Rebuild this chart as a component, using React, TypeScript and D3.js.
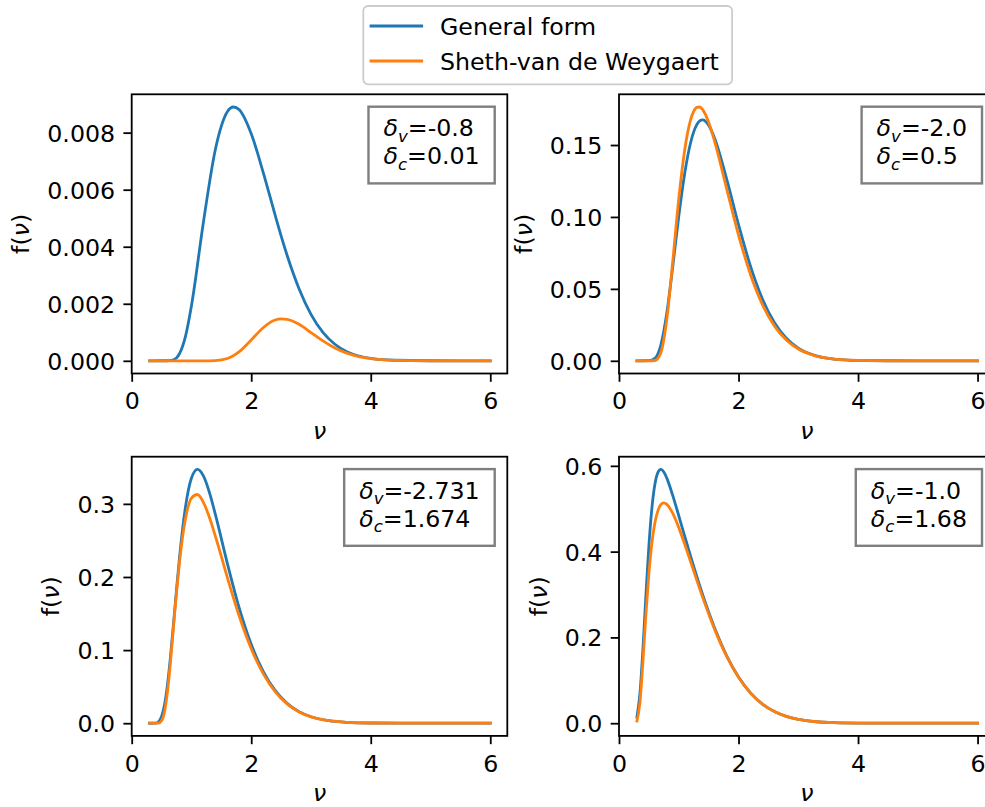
import * as d3 from "d3";
import { useEffect, useRef } from "react";

// nu grid and f(nu) (general form = blue, SvdW = orange)
const nuTL = [0.3, 0.6, 0.7, 0.8, 0.9, 1.0, 1.2, 1.4, 1.6, 1.7, 1.8, 2.0, 2.2, 2.4, 2.5, 2.6, 2.8, 3.0, 3.2, 3.4, 3.6, 3.8, 4.0, 4.4, 5.0, 6.0];
const generalTL = [0, 0.0000017, 0.0000376, 0.000252, 0.000856, 0.00193, 0.00486, 0.00741, 0.00873, 0.0089, 0.0088, 0.00796, 0.00661, 0.00511, 0.00438, 0.0037, 0.00253, 0.00163, 0.000997, 0.00058, 0.00032, 0.000168, 0.0000848, 0.000019, 0.0000015, 0];
const svdwTL = [0, 0, 0, 0, 0, 0, 0.0000002, 0.0000087, 0.000081, 0.000175, 0.00032, 0.00073, 0.00116, 0.00143, 0.00147, 0.00145, 0.00128, 0.000991, 0.000697, 0.000449, 0.000269, 0.00015, 0.0000785, 0.0000181, 0.0000014, 0];

const nuTR = [0.3, 0.5, 0.6, 0.7, 0.8, 0.9, 1.0, 1.1, 1.2, 1.25, 1.3, 1.35, 1.4, 1.5, 1.6, 1.8, 2.0, 2.2, 2.4, 2.6, 2.8, 3.0, 3.3, 3.6, 4.0, 4.5, 5.0, 6.0];
const generalTR = [0, 0.00006, 0.00169, 0.01094, 0.0332, 0.06569, 0.10043, 0.1304, 0.1519, 0.15912, 0.16404, 0.16678, 0.16752, 0.16382, 0.15466, 0.12663, 0.09469, 0.06578, 0.04295, 0.02657, 0.01565, 0.00882, 0.00344, 0.00122, 0.000268, 0.000032, 0.000003, 0];
const svdwTR = [0, 0.0000001, 0.000203, 0.00558, 0.02885, 0.06929, 0.11248, 0.14672, 0.16775, 0.17339, 0.17617, 0.17643, 0.17455, 0.16579, 0.15247, 0.11987, 0.08742, 0.06003, 0.0391, 0.02427, 0.0144, 0.00817, 0.00323, 0.00116, 0.000256, 0.000031, 0.000003, 0];

const nuBL = [0.3, 0.4, 0.45, 0.5, 0.55, 0.6, 0.65, 0.7, 0.75, 0.8, 0.9, 1.0, 1.1, 1.2, 1.3, 1.4, 1.6, 1.8, 2.0, 2.2, 2.4, 2.6, 2.8, 3.0, 3.3, 3.6, 4.0, 4.5, 5.0, 6.0];
const generalBL = [0, 0.00025, 0.00211, 0.00911, 0.02553, 0.05354, 0.09181, 0.13643, 0.18268, 0.22639, 0.29584, 0.33528, 0.34716, 0.33826, 0.31576, 0.28563, 0.21872, 0.15732, 0.10789, 0.07094, 0.04479, 0.02717, 0.01583, 0.00885, 0.00344, 0.00123, 0.00027, 0.000032, 0.000003, 0];
const svdwBL = [0, 0.0000027, 0.00025, 0.00333, 0.01618, 0.04411, 0.08515, 0.13248, 0.17915, 0.22045, 0.27953, 0.30789, 0.31281, 0.30206, 0.28168, 0.25597, 0.19947, 0.14627, 0.10193, 0.06783, 0.0432, 0.02637, 0.01544, 0.00868, 0.00339, 0.00121, 0.000265, 0.000032, 0.000003, 0];

const nuBR = [0.3, 0.35, 0.4, 0.45, 0.5, 0.55, 0.6, 0.65, 0.7, 0.75, 0.8, 0.9, 1.0, 1.1, 1.2, 1.4, 1.6, 1.8, 2.0, 2.2, 2.4, 2.6, 2.8, 3.0, 3.3, 3.6, 4.0, 4.5, 5.0, 6.0];
const generalBR = [0.01444, 0.06894, 0.17193, 0.29738, 0.41322, 0.50085, 0.55634, 0.58422, 0.59174, 0.58576, 0.57147, 0.53058, 0.48369, 0.43567, 0.38837, 0.29945, 0.22184, 0.1578, 0.1078, 0.0708, 0.0447, 0.0271, 0.0158, 0.00884, 0.00344, 0.00122, 0.000267, 0.000032, 0.000003, 0];
const svdwBR = [0.00505, 0.04785, 0.14231, 0.25288, 0.34855, 0.41928, 0.4665, 0.49496, 0.50939, 0.51355, 0.51027, 0.48897, 0.45599, 0.41711, 0.37573, 0.29333, 0.21876, 0.15632, 0.10716, 0.07053, 0.04458, 0.02706, 0.01578, 0.00884, 0.00344, 0.00122, 0.000267, 0.000032, 0.000003, 0];

const deltaV = ["-0.8", "-2.0", "-2.731", "-1.0"];
const deltaC = ["0.01", "0.5", "1.674", "1.68"];

const xTicks = [0, 2, 4, 6];
const yTicksTL = [0, 0.002, 0.004, 0.006, 0.008];
const yTicksTR = [0, 0.05, 0.1, 0.15];
const yTicksBL = [0, 0.1, 0.2, 0.3];
const yTicksBR = [0, 0.2, 0.4, 0.6];

const seriesNames = ["General form", "Sheth-van de Weygaert"];
const colors = ["#1f77b4", "#ff7f0e"];

const panels = [
    { nu: nuTL, general: generalTL, svdw: svdwTL, yTicks: yTicksTL, fmt: ".3f" },
    { nu: nuTR, general: generalTR, svdw: svdwTR, yTicks: yTicksTR, fmt: ".2f" },
    { nu: nuBL, general: generalBL, svdw: svdwBL, yTicks: yTicksBL, fmt: ".1f" },
    { nu: nuBR, general: generalBR, svdw: svdwBR, yTicks: yTicksBR, fmt: ".1f" },
];

const W = 985;
const H = 807;
const FONT = "'DejaVu Sans', sans-serif";
const FS = 23.7;
const colX = [131.7, 619];
const rowY = [94.3, 456.7];
const PW = 375.6;
const PH = 279.2;

const App = () => {
    const ref = useRef<SVGSVGElement>(null);

    useEffect(() => {
        const svg = d3.select(ref.current);
        svg.selectAll("*").remove();
        svg.append("rect").attr("width", W).attr("height", H).attr("fill", "white");

        panels.forEach((p, i) => {
            const left = colX[i % 2];
            const top = rowY[Math.floor(i / 2)];

            const [nuMin, nuMax] = d3.extent(p.nu) as [number, number];
            const x = d3.scaleLinear()
                .domain([0, nuMax + 0.05 * (nuMax - nuMin)])
                .range([left, left + PW]);
            const [lo, hi] = d3.extent([...p.general, ...p.svdw]) as [number, number];
            const pad = 0.05 * (hi - lo);
            const y = d3.scaleLinear()
                .domain([lo - pad, hi + pad])
                .range([top + PH, top]);

            const g = svg.append("g");

            const line = d3.line<number>()
                .x((_, k) => x(p.nu[k]))
                .y(d => y(d))
                .curve(d3.curveMonotoneX);

            [p.general, p.svdw].forEach((vals, s) => {
                g.append("path")
                    .attr("d", line(vals))
                    .attr("fill", "none")
                    .attr("stroke", colors[s])
                    .attr("stroke-width", 2.8)
                    .attr("stroke-linejoin", "round")
                    .attr("stroke-linecap", "square");
            });

            const xAxis = g.append("g")
                .attr("transform", `translate(0,${top + PH})`)
                .call(d3.axisBottom(x).tickValues(xTicks).tickFormat(d3.format("d"))
                    .tickSize(8.3).tickPadding(10.6).tickSizeOuter(0));
            const yAxis = g.append("g")
                .attr("transform", `translate(${left},0)`)
                .call(d3.axisLeft(y).tickValues(p.yTicks).tickFormat(d3.format(p.fmt))
                    .tickSize(8.3).tickPadding(8.3).tickSizeOuter(0));

            [xAxis, yAxis].forEach(a => {
                a.select(".domain").remove();
                a.attr("font-family", FONT).attr("font-size", FS);
                a.selectAll("line").attr("stroke", "black").attr("stroke-width", 1.8);
                a.selectAll("text").attr("fill", "black");
            });
            yAxis.selectAll("text").attr("dy", "0.36em");

            g.append("rect")
                .attr("x", left).attr("y", top)
                .attr("width", PW).attr("height", PH)
                .attr("fill", "none")
                .attr("stroke", "black")
                .attr("stroke-width", 1.8);

            // y label, placed left of the widest tick label
            let maxW = 0;
            yAxis.selectAll<SVGTextElement, unknown>("text").each(function () {
                maxW = Math.max(maxW, this.getComputedTextLength());
            });
            const lx = left - 16.6 - maxW - 18;
            const yl = g.append("text")
                .attr("transform", `translate(${lx},${top + PH / 2}) rotate(-90)`)
                .attr("text-anchor", "middle")
                .attr("font-family", FONT)
                .attr("font-size", FS);
            yl.append("tspan").text("f(");
            yl.append("tspan").attr("font-style", "italic").text("ν");
            yl.append("tspan").text(")");

            g.append("text")
                .attr("x", left + PW / 2)
                .attr("y", top + PH + 65)
                .attr("text-anchor", "middle")
                .attr("font-family", FONT)
                .attr("font-size", FS)
                .attr("font-style", "italic")
                .text("ν");

            // parameter box, upper right
            const ann = g.append("g");
            const boxRight = left + PW - 12.6;
            const boxTop = top + 12.4;
            const rows = [["v", deltaV[i]], ["c", deltaC[i]]];
            const texts = rows.map(([sub, val], r) => {
                const t = ann.append("text")
                    .attr("y", boxTop + 29.6 + r * 28.1)
                    .attr("font-family", FONT)
                    .attr("font-size", FS);
                t.append("tspan").attr("font-style", "italic").text("δ");
                t.append("tspan").attr("font-style", "italic")
                    .attr("font-size", FS * 0.7).attr("dy", 5.2).text(sub);
                t.append("tspan").attr("dy", -5.2).text("=" + val);
                return t;
            });
            const tw = Math.max(...texts.map(t => (t.node() as SVGTextElement).getComputedTextLength()));
            const padX = 15;
            const boxW = tw + 2 * padX;
            const boxLeft = boxRight - boxW;
            texts.forEach(t => t.attr("x", boxLeft + padX));
            ann.insert("rect", ":first-child")
                .attr("x", boxLeft).attr("y", boxTop)
                .attr("width", boxW).attr("height", 76.7)
                .attr("fill", "white")
                .attr("stroke", "#7f7f7f")
                .attr("stroke-width", 2.4);
        });

        // legend
        const lg = svg.append("g");
        const lgLeft = 363.3;
        const lgTop = 6;
        const rowGap = 35;
        const labels = seriesNames.map((name, s) => {
            lg.append("line")
                .attr("x1", 371).attr("x2", 421.7)
                .attr("y1", lgTop + 20 + s * rowGap).attr("y2", lgTop + 20 + s * rowGap)
                .attr("stroke", colors[s])
                .attr("stroke-width", 2.8)
                .attr("stroke-linecap", "square");
            return lg.append("text")
                .attr("x", 440)
                .attr("y", lgTop + 28.8 + s * rowGap)
                .attr("font-family", FONT)
                .attr("font-size", FS)
                .attr("fill", "black")
                .text(name);
        });
        const lw = Math.max(...labels.map(t => (t.node() as SVGTextElement).getComputedTextLength()));
        lg.insert("rect", ":first-child")
            .attr("x", lgLeft).attr("y", lgTop)
            .attr("width", 440 - lgLeft + lw + 13.3)
            .attr("height", 78.3)
            .attr("rx", 5)
            .attr("fill", "white")
            .attr("stroke", "#cccccc")
            .attr("stroke-width", 1.8);
    }, []);

    return (
        <svg ref={ref} width={W} height={H}
             style={{ position: "absolute", left: 0, top: 0 }}></svg>
    );
};

export default App;
